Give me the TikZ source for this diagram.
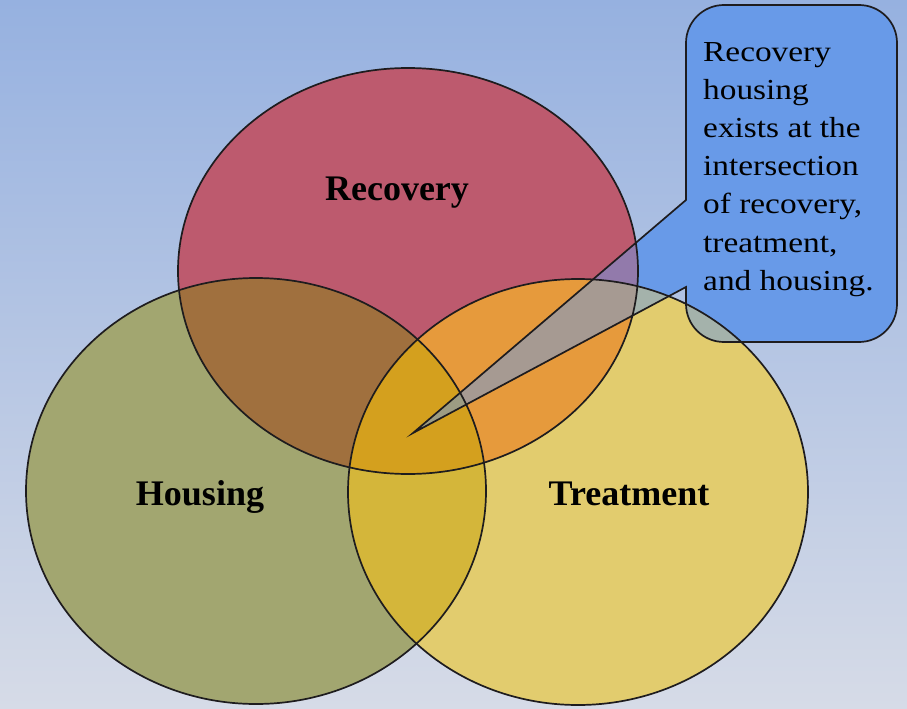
\documentclass[tikz,border=0pt]{standalone}
\usepackage{fontspec}
\setmainfont{Liberation Serif}
\newfontfamily\calloutfont[FakeStretch=1.15]{Liberation Serif}
\definecolor{bgtop}{RGB}{150,177,224}
\definecolor{bgbot}{RGB}{214,219,231}
\definecolor{colR}{RGB}{189,90,110}
\definecolor{colH}{RGB}{162,166,112}
\definecolor{colT}{RGB}{226,204,110}
\definecolor{colRH}{RGB}{160,112,62}
\definecolor{colRT}{RGB}{230,154,60}
\definecolor{colHT}{RGB}{212,182,58}
\definecolor{colRHT}{RGB}{212,160,30}
\definecolor{cb}{RGB}{104,154,232}
\definecolor{edge}{RGB}{30,28,30}
\newcommand{\Rpath}{(408,271) ellipse [x radius=230, y radius=203]}
\newcommand{\Hpath}{(256,491) ellipse [x radius=230, y radius=213]}
\newcommand{\Tpath}{(578,492) ellipse [x radius=230, y radius=213]}
\newcommand{\Cpath}{(686,287) [rounded corners=38] -- (686,342) -- (897,342) -- (897,5) -- (686,5) -- (686,160) [sharp corners] -- (686,200) -- (413,433) -- cycle}
\begin{document}
\begin{tikzpicture}[x=1pt,y=-1pt,
  outline/.style={draw=edge, line width=1.7pt},
  biglabel/.style={font=\fontsize{36}{40}\selectfont\bfseries, text=black, inner sep=0, anchor=base},
  callouttext/.style={font=\calloutfont\fontsize{29}{38.2}\selectfont, text=black, inner sep=0, anchor=north west, align=left}]
\useasboundingbox (0,0) rectangle (907,709);
\shade[top color=bgtop, bottom color=bgbot] (0,0) rectangle (907,709);
% callout base fill
\fill[cb] \Cpath;
% ellipse regions
\fill[colR] \Rpath;
\fill[colH] \Hpath;
\fill[colT] \Tpath;
\begin{scope}
  \clip \Hpath;
  \fill[colHT] \Tpath;
\end{scope}
\begin{scope}
  \clip \Rpath;
  \fill[colRH] \Hpath;
  \fill[colRT] \Tpath;
  \clip \Hpath;
  \fill[colRHT] \Tpath;
\end{scope}
% callout translucent over ellipses
\fill[cb, fill opacity=0.5] \Cpath;
% outlines
\draw[outline] \Rpath;
\draw[outline] \Hpath;
\draw[outline] \Tpath;
\draw[outline, line join=miter] \Cpath;
% labels
\node[biglabel] (rec) at (397,200) {Recovery};
\node[biglabel] (hou) at (200,505) {Housing};
\node[biglabel] (tre) at (629,505) {Treatment};
\node[callouttext] (note) at (703,42) {Recovery\\housing\\exists at the\\intersection\\of recovery,\\treatment,\\and housing.};
\end{tikzpicture}
\end{document}
